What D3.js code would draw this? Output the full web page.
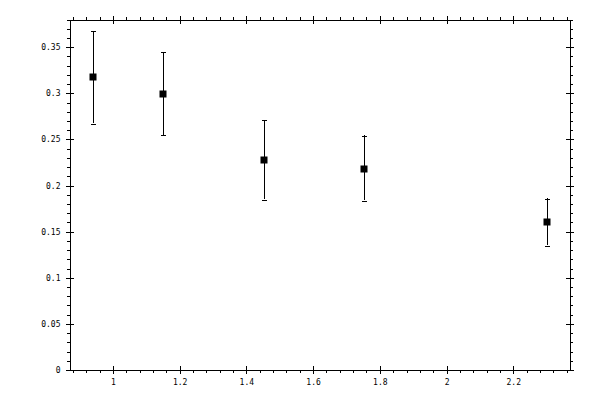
<!DOCTYPE html>
<html>
<head>
<meta charset="utf-8">
<script src="https://cdn.jsdelivr.net/npm/d3@7"></script>
<style>
  body { margin: 0; background: #fff; }
  text { font-family: "DejaVu Sans Mono", monospace; font-size: 8px; fill: #000; }
</style>
</head>
<body>
<div id="chart"></div>
<script>
// data
const xValues = [0.94, 1.15, 1.45, 1.75, 2.30];
const yValues = [0.318, 0.300, 0.228, 0.219, 0.161];
const yErrUp = [0.368, 0.345, 0.2715, 0.2545, 0.186];
const yErrDown = [0.2675, 0.255, 0.185, 0.184, 0.135];

const xTicks = [1, 1.2, 1.4, 1.6, 1.8, 2, 2.2];
const xTickLabels = ["1", "1.2", "1.4", "1.6", "1.8", "2", "2.2"];
const yTicks = [0, 0.05, 0.1, 0.15, 0.2, 0.25, 0.3, 0.35];
const yTickLabels = ["0", "0.05", "0.1", "0.15", "0.2", "0.25", "0.3", "0.35"];

const margin = {top: 19.5, right: 30, bottom: 30, left: 69.5};
const width = 600 - margin.left - margin.right;
const height = 400 - margin.top - margin.bottom;

const svg = d3.select("#chart")
    .append("svg")
    .attr("width", 600)
    .attr("height", 400)
    .append("g")
    .attr("transform", "translate(" + margin.left + "," + margin.top + ")");

const x = d3.scaleLinear().domain([0.87, 2.37]).range([0, width]);
const y = d3.scaleLinear().domain([0, 0.38]).range([height, 0]);

// minor ticks every 0.04 on x, 0.01 on y
const xMinor = d3.range(0.88, 2.37, 0.04).filter(v => !xTicks.some(t => Math.abs(t - v) < 1e-6));
const yMinor = d3.range(0.01, 0.385, 0.01).filter(v => !yTicks.some(t => Math.abs(t - v) < 1e-6));

function styleAxis(g) {
    g.select(".domain").attr("stroke", "#000").attr("shape-rendering", "crispEdges");
    g.selectAll(".tick line").attr("stroke", "#000").attr("shape-rendering", "crispEdges");
    g.attr("font-family", null).attr("font-size", null);
}

// bottom
svg.append("g")
    .attr("transform", "translate(0," + height + ")")
    .call(d3.axisBottom(x).tickValues(xMinor).tickSize(3).tickFormat("").tickSizeOuter(0))
    .call(styleAxis);
svg.append("g")
    .attr("transform", "translate(0," + height + ")")
    .call(d3.axisBottom(x).tickValues(xTicks).tickSize(4).tickPadding(5)
        .tickFormat((d, i) => xTickLabels[i]).tickSizeOuter(0))
    .call(styleAxis)
    .call(g => g.selectAll(".tick line").attr("y1", -4));

// top
svg.append("g")
    .call(d3.axisTop(x).tickValues(xMinor).tickSize(3).tickFormat("").tickSizeOuter(0))
    .call(styleAxis);
svg.append("g")
    .call(d3.axisTop(x).tickValues(xTicks).tickSize(4).tickFormat("").tickSizeOuter(0))
    .call(styleAxis)
    .call(g => g.selectAll(".tick line").attr("y1", 4));

// left
svg.append("g")
    .call(d3.axisLeft(y).tickValues(yMinor).tickSize(3).tickFormat("").tickSizeOuter(0))
    .call(styleAxis);
svg.append("g")
    .call(d3.axisLeft(y).tickValues(yTicks).tickSize(4).tickPadding(5)
        .tickFormat((d, i) => yTickLabels[i]).tickSizeOuter(0))
    .call(styleAxis)
    .call(g => g.selectAll(".tick line").attr("x1", 4));

// right
svg.append("g")
    .attr("transform", "translate(" + width + ",0)")
    .call(d3.axisRight(y).tickValues(yMinor).tickSize(3).tickFormat("").tickSizeOuter(0))
    .call(styleAxis);
svg.append("g")
    .attr("transform", "translate(" + width + ",0)")
    .call(d3.axisRight(y).tickValues(yTicks).tickSize(4).tickFormat("").tickSizeOuter(0))
    .call(styleAxis)
    .call(g => g.selectAll(".tick line").attr("x1", -4));

const points = xValues.map((v, i) => ({x: v, y: yValues[i], hi: yErrUp[i], lo: yErrDown[i]}));

// error bars
const bars = svg.selectAll(".err")
    .data(points)
    .enter()
    .append("g")
    .attr("class", "err")
    .attr("stroke", "#000")
    .attr("shape-rendering", "crispEdges");
bars.append("line")
    .attr("x1", d => Math.round(x(d.x)) + 0.5)
    .attr("x2", d => Math.round(x(d.x)) + 0.5)
    .attr("y1", d => y(d.hi))
    .attr("y2", d => y(d.lo));
bars.append("line")
    .attr("x1", d => Math.round(x(d.x)) - 2)
    .attr("x2", d => Math.round(x(d.x)) + 3)
    .attr("y1", d => Math.round(y(d.hi)) + 0.5)
    .attr("y2", d => Math.round(y(d.hi)) + 0.5);
bars.append("line")
    .attr("x1", d => Math.round(x(d.x)) - 2)
    .attr("x2", d => Math.round(x(d.x)) + 3)
    .attr("y1", d => Math.round(y(d.lo)) + 0.5)
    .attr("y2", d => Math.round(y(d.lo)) + 0.5);

// square markers
svg.selectAll(".pt")
    .data(points)
    .enter()
    .append("rect")
    .attr("class", "pt")
    .attr("x", d => Math.round(x(d.x)) - 3)
    .attr("y", d => Math.round(y(d.y)) - 3)
    .attr("width", 7)
    .attr("height", 7)
    .attr("fill", "#000");
</script>
</body>
</html>
